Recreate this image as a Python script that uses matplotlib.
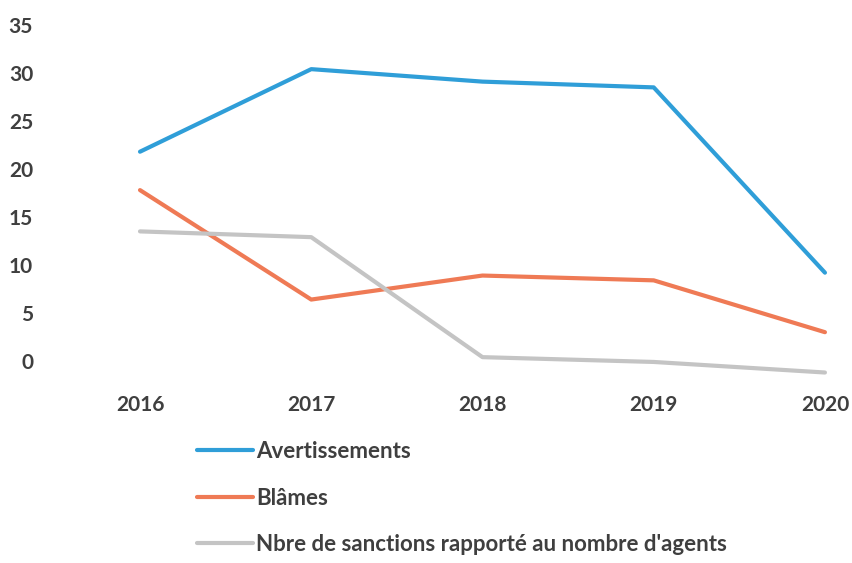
import matplotlib
matplotlib.use("Agg")
import matplotlib.pyplot as plt

# values
years = ["2016", "2017", "2018", "2019", "2020"]
avertissements = [21.8, 30.4, 29.1, 28.5, 9.2]
blames = [17.8, 6.4, 8.9, 8.4, 3.0]
ratio_agents = [13.5, 12.9, 0.4, -0.1, -1.2]

labels = ["Avertissements", "Blâmes", "Nbre de sanctions rapporté au nombre d'agents"]
colors = ["#2F9ED8", "#EF7A55", "#C4C4C4"]
text_color = "#3F3F3F"

plt.rcParams["font.family"] = ["Lato", "DejaVu Sans"]
plt.rcParams["font.weight"] = "bold"

fig = plt.figure(figsize=(8.52, 5.63), dpi=100)
ax = fig.add_axes([40 / 852, 1 - 380 / 563, 812 / 852, 365 / 563])

x = list(range(len(years)))
for series, color, label in zip([avertissements, blames, ratio_agents], colors, labels):
    ax.plot(x, series, color=color, linewidth=3, label=label, solid_capstyle="round")

ax.set_xlim(-0.584, 4.158)
ax.set_ylim(-1.98, 36.04)
ax.set_yticks(range(0, 36, 5))
ax.set_xticks(x)
ax.set_xticklabels(years)

for side in ["top", "right", "bottom", "left"]:
    ax.spines[side].set_visible(False)
ax.tick_params(axis="both", length=0, labelsize=15, labelcolor=text_color)
ax.tick_params(axis="y", pad=5)
ax.tick_params(axis="x", pad=11)

fig.legend(loc="upper left", bbox_to_anchor=(197 / 852, 1 - 441 / 563),
           frameon=False, fontsize=16, handlelength=2.5, handletextpad=0.15,
           labelspacing=1.15, borderpad=0, borderaxespad=0,
           labelcolor=text_color)

fig.savefig("out.png", dpi=100)
